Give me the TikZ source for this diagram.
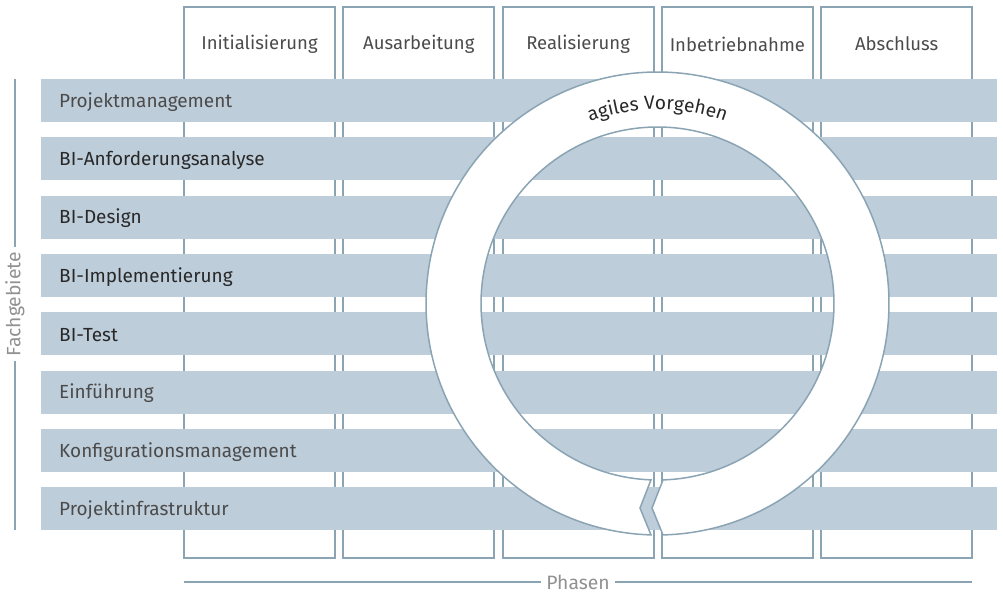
\documentclass[tikz,border=0pt]{standalone}
\usepackage{fontspec}
\setmainfont{Fira Sans}
\usetikzlibrary{decorations.text}

\begin{document}
\begin{tikzpicture}[x=0.3mm,y=-0.3mm]
\definecolor{bandblue}{RGB}{190,205,218}
\definecolor{rimgray}{RGB}{138,164,180}
\definecolor{textdark}{RGB}{40,40,40}
\definecolor{textmid}{RGB}{75,75,75}
\definecolor{labelgray}{RGB}{145,145,145}
\tikzset{
  phasetext/.style={font=\fontsize{15.8}{18}\selectfont, text=textmid, inner sep=0pt},
  rowlight/.style={font=\fontsize{16.2}{18}\selectfont, text=textmid, inner sep=0pt, anchor=west},
  rowdark/.style={font=\fontsize{16.2}{18}\selectfont, text=textdark, inner sep=0pt, anchor=west},
  axislabel/.style={font=\fontsize{16.5}{18}\selectfont, text=labelgray, fill=white, inner xsep=1.5mm, inner ysep=1pt},
  axisline/.style={rimgray, line width=0.45mm}
}
\useasboundingbox (0,0) rectangle (1003,596);

% phase columns
\foreach \name [count=\i from 0] in {Initialisierung,Ausarbeitung,Realisierung,Inbetriebnahme,Abschluss} {
  \draw[rimgray, line width=0.55mm] ({184+159.3*\i},7) rectangle ++(151,551);
  \node[phasetext] (phase\i) at ({259.5+159.3*\i},44) {\name};
}

% subject bands
\foreach \tone/\name [count=\i from 0] in {rowlight/Projektmanagement, rowdark/BI-Anforderungsanalyse,
    rowdark/BI-Design, rowdark/BI-Implementierung, rowdark/BI-Test, rowlight/Einführung,
    rowlight/Konfigurationsmanagement, rowlight/Projektinfrastruktur} {
  \fill[bandblue] (41,{79+58.3*\i}) rectangle (997,{122+58.3*\i});
  \node[\tone] (area\i) at (59,{102+58.3*\i}) {\name};
}

% agile cycle
\begin{scope}[shift={(657.5,303.5)}]
  \draw[rimgray, line width=0.45mm, fill=white]
    (91.61:231.5) arc[start angle=91.61, end angle=448.64, radius=231.5]
    -- (-5.5,204.5) -- (448.21:176.5)
    arc[start angle=448.21, end angle=92.11, radius=176.5]
    -- (-17.5,204.5) -- cycle;
  \path[decorate, decoration={text along path, text align=center,
      text={|\fontsize{16.3}{18}\selectfont\color{textdark}|agiles Vorgehen}}]
    (230:194) arc[start angle=230, end angle=310, radius=194];
\end{scope}

% axes
\coordinate (fachtop) at (15,79);
\coordinate (fachbot) at (15,530);
\draw[axisline] (fachtop) -- (fachbot);
\node[axislabel, rotate=90] (fach) at (15,304) {Fachgebiete};

\coordinate (phasleft) at (184,582);
\coordinate (phasright) at (972,582);
\draw[axisline] (phasleft) -- (phasright);
\node[axislabel] (phas) at (578,582) {Phasen};
\end{tikzpicture}
\end{document}
